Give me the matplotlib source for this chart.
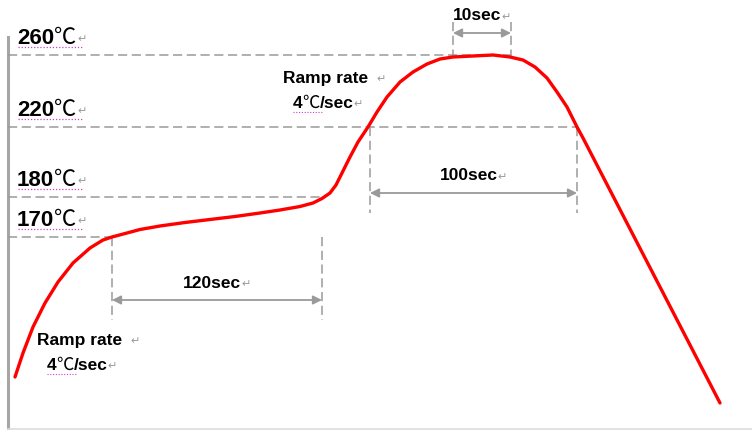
import numpy as np
import matplotlib.pyplot as plt

# schematic reflow profile, drawn in picture units (x: time, y: level, top down)
curve_x = [15, 23, 33, 45, 58, 73, 90, 103, 112, 127, 140, 160, 185, 210, 235, 260,
           280, 300, 313, 322, 330, 336, 342, 350, 358, 368, 377, 387, 400, 413, 427,
           440, 453, 473, 493, 510, 523, 535, 547, 557, 567, 577, 583, 720]
curve_y = [377, 353, 327, 303, 282, 263, 248, 240, 237, 233, 229.5, 226, 222.5, 219.5, 216.5, 213,
           210, 206.5, 203, 198.5, 193, 185, 173, 157, 142, 127, 112, 97, 82, 72, 64,
           59, 57, 56, 55, 57, 60, 67, 78, 92, 107, 127, 138, 403]

levels = ['260', '220', '180', '170']
level_y = [55, 127, 197, 237]
level_end = [511, 577, 322, 112]

spans = ['120sec', '100sec', '10sec']
span_x0 = [112, 370, 453]
span_x1 = [322, 577, 511]
span_top = [237, 127, 22]
span_bot = [320, 213, 57]
span_arrow_y = [300, 193, 33]

plt.rcParams['font.family'] = ['Liberation Sans', 'DejaVu Sans']
cjk = ['Noto Sans CJK SC', 'DejaVu Sans']

fig = plt.figure(figsize=(7.52, 4.30), dpi=100)
ax = fig.add_axes([0, 0, 1, 1])
ax.set_xlim(0, 752)
ax.set_ylim(430, 0)
ax.axis('off')

grey = '#9a9a9a'
pink = '#d040d0'


def tail(prev, s, **kw):
    # place a piece of text right after the previous one
    return ax.annotate(s, xy=(1, 0.5), xycoords=prev, ha='left', va='center', **kw)


def ret(prev, dx=3):
    return ax.annotate('↵', xy=(1, 0.45), xycoords=prev, xytext=(dx, 0),
                       textcoords='offset points', ha='left', va='center',
                       fontsize=8, color=grey, family='DejaVu Sans')


# axes frame
ax.plot([8, 8], [37, 430], color='#a6a6a6', lw=2.2)
ax.plot([8, 752], [429, 429], color='#dddddd', lw=1.2)

# level lines and labels
for lab, y, xe in zip(levels, level_y, level_end):
    ax.plot([8, xe], [y, y], color=grey, lw=1.1, dashes=(6, 3))
    ty = y - 17
    t = ax.text(17, ty, lab, fontsize=16, fontweight='bold', ha='left', va='center')
    c = tail(t, '℃', fontsize=16, family=cjk)
    ret(c, 1)
    ax.plot([18, 82], [ty + 9, ty + 9], color=pink, lw=0.9, dashes=(1, 1.5))

# time spans
for lab, x0, x1, yt, yb, ya in zip(spans, span_x0, span_x1, span_top, span_bot, span_arrow_y):
    for x in (x0, x1):
        ax.plot([x, x], [yt, yb], color=grey, lw=1.1, dashes=(6, 3))
    ax.annotate('', xy=(x1, ya), xytext=(x0, ya),
                arrowprops=dict(arrowstyle='<|-|>', color=grey, lw=1.3,
                                mutation_scale=13, shrinkA=0, shrinkB=0))
    tx = (x0 + x1) / 2 - 5
    t = ax.text(tx, ya - 17, lab, fontsize=12.5, fontweight='bold', ha='center', va='center')
    ret(t, 0)

# ramp rate notes
for rx, ry in [(283, 78), (37, 340)]:
    t = ax.text(rx, ry, 'Ramp rate', fontsize=12.5, fontweight='bold', ha='left', va='center')
    ret(t, 6)
    t4 = ax.text(rx + 10, ry + 25, '4', fontsize=12.5, fontweight='bold', ha='left', va='center')
    c = tail(t4, '℃', fontsize=12.5, family=cjk)
    s = tail(c, '/sec', fontsize=12.5, fontweight='bold')
    ret(s, 0)
    ax.plot([rx + 10, rx + 39], [ry + 34, ry + 34], color=pink, lw=0.8, dashes=(1, 1.5))

ax.plot(curve_x, curve_y, color='#ff0000', lw=2.4, solid_capstyle='round',
        solid_joinstyle='round')

fig.savefig('out.png', dpi=100)
